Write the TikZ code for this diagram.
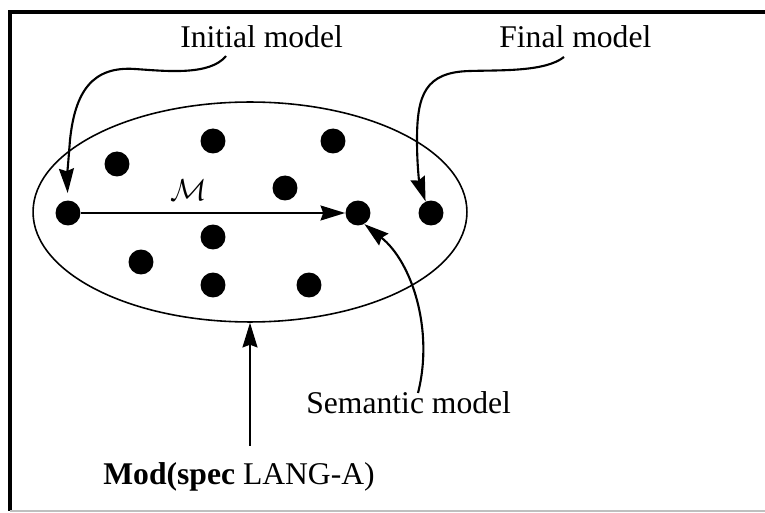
\documentclass[tikz,border=0pt]{standalone}
\usepackage{fontspec}
\setmainfont{Liberation Serif}
\usepackage{tikz}
\usetikzlibrary{arrows.meta,shapes.geometric}

\tikzset{
  model/.style={circle,fill=black,inner sep=0pt,minimum size=0.5cm},
  lbl/.style={font=\fontsize{18}{20}\selectfont,inner sep=0pt},
  link/.style={line width=1.2pt,-{Stealth[length=14pt,width=8.5pt,inset=1.5pt]}}
}

\begin{document}
\begin{tikzpicture}[x=0.02cm,y=-0.02cm]
\useasboundingbox (0,0) rectangle (765,513);
\clip (0,0) rectangle (765,513);
% frame
\draw[line width=2pt] (790,12) -- (10,12) -- (10,511);
\draw[black!25,line width=0.8pt] (10,511) -- (790,511);
% the model class
\node[ellipse,draw,line width=0.9pt,minimum width=8.68cm,minimum height=4.4cm] (modset) at (250,212) {};
\node[model] (ini) at (68,213) {};
\node[model] (m1) at (117,164) {};
\node[model] (m2) at (213,141) {};
\node[model] (m3) at (333,141) {};
\node[model] (m4) at (285,188) {};
\node[model] (sem) at (358,213) {};
\node[model] (fin) at (431,213) {};
\node[model] (m5) at (213,237) {};
\node[model] (m6) at (141,262) {};
\node[model] (m7) at (213,285) {};
\node[model] (m8) at (309,285) {};
% labels
\node[lbl,anchor=base west] (inilbl) at (180,48) {Initial model};
\node[lbl,anchor=base west] (finlbl) at (499,48) {Final model};
\node[lbl,anchor=base west] (semlbl) at (306,414) {Semantic model};
\node[lbl,anchor=base west] (modlbl) at (103,485) {\textbf{Mod(spec} LANG-A)};
\node[font=\fontsize{18}{20}\selectfont,inner sep=0pt] (mlbl) at (189,190) {$\mathcal{M}$};
\coordinate (iniTail) at (226,56);
\coordinate (finTail) at (564,57);
\coordinate (semTail) at (418,393);
\coordinate (modTail) at (250,446);
% connectors
\draw[link] (ini) -- (sem);
\draw[link,shorten >=4pt] (iniTail) .. controls (210,76) and (165,71) .. (135,69)
  .. controls (92,66) and (75,92) .. (70,140) .. controls (68,165) and (67,180) .. (ini.north);
\draw[link] (finTail) .. controls (545,72) and (500,70) .. (470,71)
  .. controls (425,72) and (417,95) .. (417,140) .. controls (417,170) and (420,185) .. (fin.115);
\draw[link] (semTail) .. controls (434,330) and (412,262) .. (sem.-60);
\draw[link] (modTail) -- (modset.south);
\end{tikzpicture}
\end{document}
